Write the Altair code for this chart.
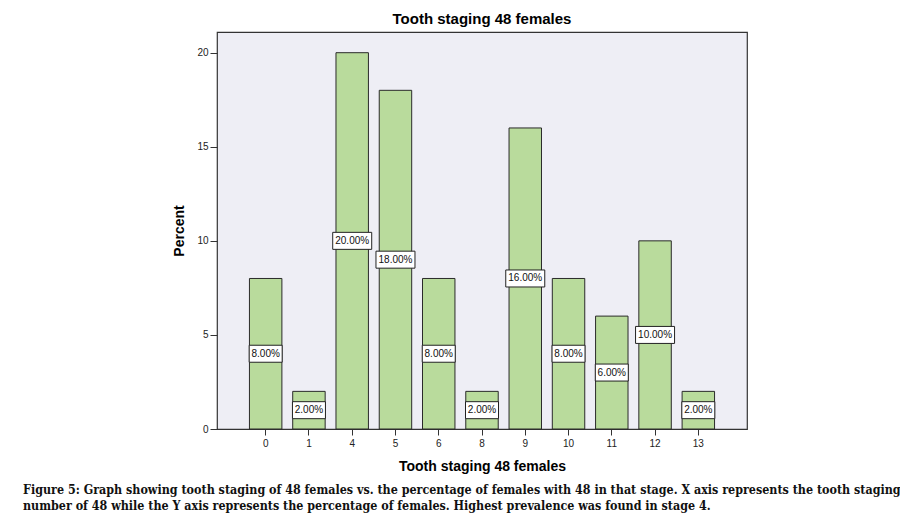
import altair as alt
import pandas as pd

stages = ["0", "1", "4", "5", "6", "8", "9", "10", "11", "12", "13"]
percents = [8, 2, 20, 18, 8, 2, 16, 8, 6, 10, 2]
labels = ["8.00%", "2.00%", "20.00%", "18.00%", "8.00%", "2.00%", "16.00%", "8.00%", "6.00%", "10.00%", "2.00%"]

caption1 = ("Figure 5: Graph showing tooth staging of 48 females vs. the percentage of females with 48 in that stage. "
            "X axis represents the tooth staging")
caption2 = ("number of 48 while the Y axis represents the percentage of females. Highest prevalence was found in stage 4.")

df = pd.DataFrame({"stage": stages, "pct": percents, "label": labels})

FONT = "Liberation Sans"

x_enc = alt.X("stage:N", sort=stages,
              scale=alt.Scale(paddingInner=0.25, paddingOuter=0.75),
              axis=alt.Axis(title="Tooth staging 48 females", labelAngle=0, domain=False,
                            tickSize=6, tickColor="#333", labelColor="#222",
                            labelFontSize=10, labelFont=FONT, labelPadding=3,
                            titleFont=FONT, titleFontSize=14, titleFontWeight="bold",
                            titleColor="#000", titlePadding=11))
y_scale = alt.Scale(domain=[0, 21.1], nice=False)

base = alt.Chart(df)

bars = base.mark_bar(fill="#B9DB9C", stroke="#2a2a2a", strokeWidth=1).encode(
    x=x_enc,
    y=alt.Y("pct:Q", scale=y_scale,
            axis=alt.Axis(title="Percent", values=[0, 5, 10, 15, 20], grid=False, domain=False,
                          tickSize=7, tickColor="#333", labelColor="#222",
                          labelFontSize=10, labelFont=FONT, labelPadding=2,
                          titleFont=FONT, titleFontSize=14, titleFontWeight="bold",
                          titleColor="#000", titlePadding=10)),
)

boxes = base.transform_calculate(
    mid="datum.pct / 2",
    shp="datum.pct >= 10 ? 'M-0.975,-0.425H0.975V0.425H-0.975Z' : 'M-0.825,-0.425H0.825V0.425H-0.825Z'",
).mark_point(fill="white", stroke="#222", strokeWidth=1, opacity=1, fillOpacity=1, size=1600).encode(
    x=alt.X("stage:N", sort=stages),
    y=alt.Y("mid:Q", scale=y_scale),
    shape=alt.Shape("shp:N", scale=None),
)

texts = base.transform_calculate(mid="datum.pct / 2").mark_text(
    font=FONT, fontSize=10, color="#111", baseline="middle", align="center"
).encode(
    x=alt.X("stage:N", sort=stages),
    y=alt.Y("mid:Q", scale=y_scale),
    text="label:N",
)

one = pd.DataFrame({"a": [0]})
cap_font = "DejaVu Serif Condensed, DejaVu Serif"
cap1 = alt.Chart(one).mark_text(text=caption1, font=cap_font, fontSize=12.4, fontWeight="bold",
                                align="left", baseline="middle", color="#111").encode(
    x=alt.value(-194), y=alt.value(458))
cap2 = alt.Chart(one).mark_text(text=caption2, font=cap_font, fontSize=12.4, fontWeight="bold",
                                align="left", baseline="middle", color="#111").encode(
    x=alt.value(-194), y=alt.value(474))

chart = alt.layer(bars, boxes, texts, cap1, cap2).properties(
    width=530, height=397,
    background="white",
    title=alt.TitleParams("Tooth staging 48 females", font=FONT, fontSize=15, fontWeight="bold",
                          color="#000", offset=5),
    autosize=alt.AutoSizeParams(type="none"),
    padding={"left": 209, "top": 24, "right": 153, "bottom": 90},
).configure_view(
    fill="#EEEEF5", stroke="#333", strokeWidth=1.2
)

chart.save("out.html", embed_options={"renderer": "svg", "actions": False})
